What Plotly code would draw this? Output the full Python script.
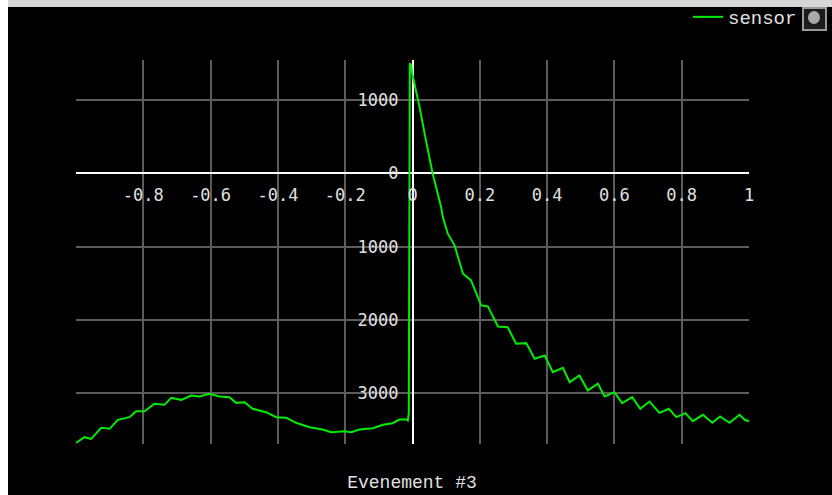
import plotly.graph_objects as go

# Sensor trace, event #3
time_s = [
    -1.0, -0.975, -0.955, -0.925, -0.90, -0.876, -0.841, -0.821, -0.796, -0.767,
    -0.737, -0.717, -0.687, -0.658, -0.633, -0.603, -0.574, -0.544, -0.524, -0.499,
    -0.475, -0.435, -0.405, -0.375, -0.346, -0.306, -0.267, -0.242, -0.202, -0.182,
    -0.158, -0.118, -0.088, -0.059, -0.039, -0.019, -0.014, -0.011,
    -0.008, -0.004, -0.001, 0.006, 0.013, 0.021, 0.036, 0.051, 0.060, 0.065,
    0.085, 0.090, 0.105, 0.125, 0.150, 0.174, 0.204, 0.224, 0.254, 0.283,
    0.308, 0.338, 0.363, 0.393, 0.417, 0.447, 0.467, 0.496, 0.521, 0.551,
    0.571, 0.600, 0.623, 0.653, 0.677, 0.704, 0.734, 0.762, 0.784, 0.811,
    0.833, 0.863, 0.891, 0.914, 0.942, 0.972, 0.987, 1.0,
]
sensor = [
    -3674, -3597, -3620, -3470, -3483, -3360, -3324, -3243, -3243, -3142,
    -3156, -3060, -3088, -3029, -3042, -3006, -3042, -3052, -3129, -3120,
    -3210, -3256, -3324, -3333, -3401, -3461, -3492, -3529, -3515, -3529,
    -3492, -3474, -3428, -3406, -3356, -3356, -3370, -3270,
    1500, 1480, 1360, 1224, 1087, 905, 542, 177, -5, -95,
    -460, -596, -823, -982, -1368, -1460, -1801, -1814, -2087, -2097,
    -2324, -2315, -2528, -2483, -2711, -2651, -2847, -2756, -2960, -2869,
    -3042, -2983, -3133, -3052, -3210, -3111, -3265, -3210, -3324, -3270,
    -3379, -3292, -3401, -3315, -3401, -3292, -3360, -3379,
]

x_ticks = [-0.8, -0.6, -0.4, -0.2, 0, 0.2, 0.4, 0.6, 0.8, 1]
x_tick_text = ["-0.8", "-0.6", "-0.4", "-0.2", "0", "0.2", "0.4", "0.6", "0.8", "1"]
y_ticks = [-3000, -2000, -1000, 0, 1000]
y_tick_text = ["3000", "2000", "1000", "0", "1000"]

x_range = [-1.0, 1.0]
y_range = [-3690, 1545]

W, H = 832, 495
x_dom = [76 / W, 749 / W]
y_dom = [(H - 444) / H, (H - 60) / H]

# axes cross at the origin
x_axis_pos = y_dom[0] + (0 - y_range[0]) / (y_range[1] - y_range[0]) * (y_dom[1] - y_dom[0])
y_axis_pos = x_dom[0] + (0 - x_range[0]) / (x_range[1] - x_range[0]) * (x_dom[1] - x_dom[0])

GRID = "#5c5c5c"
TEXT = "#e0e0e0"
tick_font = dict(family="DejaVu Sans Mono", size=17, color=TEXT)
mono = dict(family="Liberation Mono", size=19, color=TEXT)
title_font = dict(family="Liberation Mono", size=18, color=TEXT)

fig = go.Figure()
fig.add_trace(go.Scatter(
    x=time_s, y=sensor, mode="lines", name="sensor",
    line=dict(color="#00ec00", width=2),
))

fig.update_layout(
    width=W, height=H,
    margin=dict(l=0, r=0, t=0, b=0, autoexpand=False),
    paper_bgcolor="black", plot_bgcolor="black",
    title=dict(text="Evenement #3", x=412 / W, xanchor="center",
               y=1 - 482 / H, yanchor="middle", yref="container", font=title_font),
    showlegend=True,
    legend=dict(x=802 / W, xanchor="right", y=1 + 2 / H, yanchor="top",
                font=mono, bgcolor="rgba(0,0,0,0)", borderwidth=0,
                itemwidth=30),
    xaxis=dict(
        domain=x_dom, range=x_range, anchor="free", position=x_axis_pos,
        tickvals=x_ticks, ticktext=x_tick_text, tickfont=tick_font,
        showgrid=True, gridcolor=GRID, gridwidth=2,
        zeroline=True, zerolinecolor="white", zerolinewidth=2,
        showline=False, ticks="", ticklabelstandoff=10, automargin=False,
    ),
    yaxis=dict(
        domain=y_dom, range=y_range, anchor="free", position=y_axis_pos,
        tickvals=y_ticks, ticktext=y_tick_text, tickfont=tick_font,
        showgrid=True, gridcolor=GRID, gridwidth=2,
        zeroline=True, zerolinecolor="white", zerolinewidth=2,
        showline=False, ticks="", ticklabelstandoff=14, automargin=False,
    ),
    shapes=[
        # window frame: light strip on top, white strip on the left
        dict(type="rect", xref="paper", yref="paper", x0=0, x1=1,
             y0=1 - 7 / H, y1=1, fillcolor="#d6d6d6", line_width=0, layer="above"),
        dict(type="rect", xref="paper", yref="paper", x0=0, x1=8 / W,
             y0=0, y1=1, fillcolor="white", line_width=0, layer="above"),
        # small toggle button next to the legend
        dict(type="rect", xref="paper", yref="paper", x0=803 / W, x1=826 / W,
             y0=1 - 30 / H, y1=1 - 8 / H, fillcolor="#1c1c1c",
             line=dict(color="#9a9a9a", width=2), layer="above"),
        dict(type="circle", xref="paper", yref="paper", x0=808 / W, x1=820 / W,
             y0=1 - 24 / H, y1=1 - 11 / H, fillcolor="#a8a8a8", line_width=0,
             layer="above"),
    ],
)

fig.write_html("out.html")
